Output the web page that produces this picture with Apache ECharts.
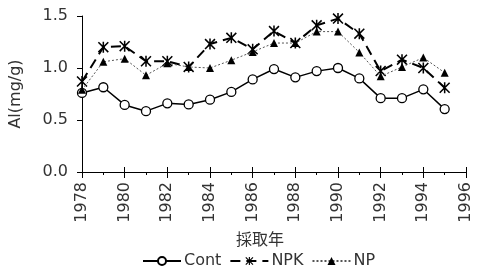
<!DOCTYPE html>
<html><head><meta charset="utf-8">
<script src="https://cdn.jsdelivr.net/npm/echarts@6/dist/echarts.min.js"></script>
<style>html,body{margin:0;padding:0;background:#fff}#c{width:478px;height:273px}</style>
</head><body><div id="c"></div>
<script>
const years = [1978,1979,1980,1981,1982,1983,1984,1985,1986,1987,1988,1989,1990,1991,1992,1993,1994,1995];
const cont = [0.76,0.815,0.645,0.585,0.66,0.65,0.695,0.77,0.89,0.99,0.91,0.97,1.00,0.90,0.71,0.71,0.795,0.605];
const npk  = [0.87,1.20,1.21,1.065,1.065,1.01,1.23,1.29,1.18,1.355,1.24,1.41,1.475,1.33,0.97,1.08,1.00,0.81];
const np   = [0.79,1.06,1.09,0.93,1.045,1.01,1.00,1.075,1.155,1.24,1.24,1.35,1.35,1.15,0.92,1.01,1.10,0.955];
const seriesNames = ['Cont','NPK','NP'];
const xName = '採取年';
const yName = 'Al(mg/g)';

const pair = arr => years.map((y,i)=>[y,arr[i]]);
const font = 'DejaVu Sans';
const txt = '#333';
const star = 'path://M4.3,0 L5.7,0 L5.7,10 L4.3,10 Z M0,1 L1,0 L10,9 L9,10 Z M9,0 L10,1 L1,10 L0,9 Z';

const chart = echarts.init(document.getElementById('c'));
chart.setOption({
  animation:false,
  textStyle:{fontFamily:font},
  grid:{left:81,right:12,top:16,bottom:101},
  legend:{
    bottom:-1,left:137,itemWidth:38,itemHeight:10,itemGap:8,
    textStyle:{fontFamily:font,fontSize:16,color:txt,padding:[0,0,0,-2]},
    data:seriesNames
  },
  xAxis:[{
    type:'value',min:1978,max:1996,interval:2,
    name:xName,nameLocation:'middle',nameGap:56,
    nameTextStyle:{fontFamily:'Noto Sans CJK JP',fontSize:16,color:txt,padding:[0,28,0,0]},
    axisLine:{lineStyle:{color:'#000',width:1}},
    axisTick:{show:true,length:6,lineStyle:{color:'#000'}},
    minorTick:{show:true,splitNumber:2,length:3,lineStyle:{color:'#000'}},
    splitLine:{show:false},
    axisLabel:{rotate:90,margin:10,fontSize:16,color:txt,fontFamily:font,formatter:v=>String(v)}
  },{
    type:'value',min:1978,max:1996,interval:2,position:'bottom',
    axisLine:{show:false},
    axisTick:{show:true,inside:true,length:5,lineStyle:{color:'#000'}},
    axisLabel:{show:false},splitLine:{show:false}
  }],
  yAxis:{
    type:'value',min:0,max:1.5,interval:0.5,
    name:yName,nameLocation:'middle',nameGap:58,
    nameTextStyle:{fontFamily:font,fontSize:16,color:txt},
    axisLine:{show:true,lineStyle:{color:'#000',width:1}},
    axisTick:{show:true,length:5,lineStyle:{color:'#000'}},
    splitLine:{show:false},
    axisLabel:{margin:14,fontSize:16,color:txt,fontFamily:font,formatter:v=>v.toFixed(1)}
  },
  series:[
    {name:seriesNames[0],type:'line',data:pair(cont),symbol:'circle',symbolSize:9,
     lineStyle:{color:'#000',width:1.5},itemStyle:{color:'#fff',borderColor:'#000',borderWidth:1.3},z:3},
    {name:seriesNames[1],type:'line',data:pair(npk),symbol:star,symbolSize:11,
     lineStyle:{color:'#000',width:2,type:[10,6]},itemStyle:{color:'#000'},z:4},
    {name:seriesNames[2],type:'line',data:pair(np),symbol:'triangle',symbolSize:8,
     lineStyle:{color:'#555',width:1,type:[2,2]},itemStyle:{color:'#000'},z:5}
  ]
});
</script></body></html>
